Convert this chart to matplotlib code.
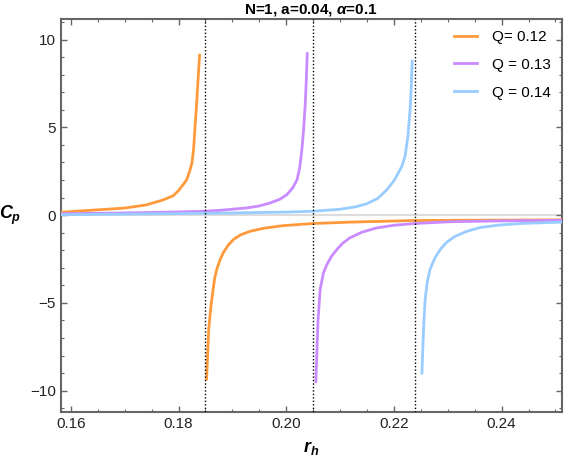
import matplotlib
matplotlib.use("Agg")
import matplotlib.pyplot as plt
from matplotlib.ticker import MultipleLocator, FormatStrFormatter

plt.rcParams['font.family'] = ['Liberation Sans', 'DejaVu Sans']
plt.rcParams['mathtext.fontset'] = 'custom'
plt.rcParams['mathtext.it'] = 'Liberation Sans:bold:italic'
plt.rcParams['mathtext.rm'] = 'Liberation Sans:bold'
plt.rcParams['mathtext.bf'] = 'Liberation Sans:bold'

labels = ["Q= 0.12", "Q = 0.13", "Q = 0.14"]
colors = ["#FF9A3C", "#C98BFF", "#99CCFF"]
critical_rh = [0.185, 0.205, 0.224]

# Q = 0.12
q12_left_x = [0.1581, 0.160, 0.165, 0.170, 0.174, 0.177, 0.179, 0.180, 0.181, 0.1815,
              0.182, 0.1825, 0.1828, 0.1831, 0.1833, 0.1835, 0.1837, 0.1839]
q12_left_y = [0.16, 0.20, 0.30, 0.40, 0.58, 0.85, 1.10, 1.40, 1.80, 2.01,
              2.45, 2.98, 3.80, 5.25, 6.10, 7.10, 8.10, 9.11]
q12_right_x = [0.1852, 0.1856, 0.1860, 0.1864, 0.1867, 0.1871, 0.1877, 0.1883, 0.1892,
               0.1902, 0.1915, 0.1933, 0.1960, 0.1995, 0.2050, 0.2120, 0.2237, 0.2512]
q12_right_y = [-9.34, -6.50, -5.20, -4.28, -3.60, -3.09, -2.55, -2.15, -1.72,
               -1.39, -1.13, -0.92, -0.74, -0.60, -0.48, -0.40, -0.31, -0.27]

# Q = 0.13
q13_left_x = [0.1581, 0.170, 0.180, 0.1849, 0.1877, 0.1927, 0.1950, 0.1970, 0.1988,
              0.2001, 0.2012, 0.2020, 0.2025, 0.2029, 0.2032, 0.2035, 0.2037, 0.2039]
q13_left_y = [0.08, 0.12, 0.18, 0.22, 0.27, 0.41, 0.52, 0.69, 0.90,
              1.16, 1.55, 2.01, 2.70, 3.72, 4.80, 6.17, 7.50, 9.20]
q13_right_x = [0.2055, 0.2059, 0.2063, 0.2069, 0.2075, 0.2084, 0.2094, 0.2105, 0.2118,
               0.2140, 0.2168, 0.2200, 0.2239, 0.2304, 0.2400, 0.2512]
q13_right_y = [-9.49, -6.00, -4.23, -3.30, -2.85, -2.35, -1.96, -1.60, -1.30,
               -0.98, -0.73, -0.58, -0.48, -0.38, -0.33, -0.30]

# Q = 0.14
q14_left_x = [0.1581, 0.175, 0.190, 0.200, 0.205, 0.210, 0.213, 0.2149, 0.2170,
              0.2187, 0.2200, 0.2208, 0.2215, 0.2221, 0.2226, 0.2230, 0.2232, 0.2234]
q14_left_y = [0.02, 0.07, 0.12, 0.17, 0.22, 0.33, 0.48, 0.64, 0.95,
              1.45, 1.95, 2.39, 2.80, 3.40, 4.50, 6.00, 7.20, 8.77]
q14_right_x = [0.2252, 0.2255, 0.2258, 0.2262, 0.2267, 0.2276, 0.2286, 0.2298, 0.2313,
               0.2335, 0.2360, 0.2395, 0.2434, 0.2512]
q14_right_y = [-9.00, -6.50, -4.80, -3.80, -3.10, -2.45, -1.96, -1.55, -1.22,
               -0.93, -0.71, -0.57, -0.48, -0.40]

series = [
    [(q12_left_x, q12_left_y), (q12_right_x, q12_right_y)],
    [(q13_left_x, q13_left_y), (q13_right_x, q13_right_y)],
    [(q14_left_x, q14_left_y), (q14_right_x, q14_right_y)],
]

fig = plt.figure(figsize=(5.67, 4.61), dpi=100)
ax = fig.add_axes([0.107, 0.107, 0.884, 0.851])

ax.axhline(0, color="#DDDDDD", lw=1.5, zorder=1)

for i, branches in enumerate(series):
    for j, (xs, ys) in enumerate(branches):
        ax.plot(xs, ys, color=colors[i], lw=2.0, zorder=3, solid_joinstyle='round',
                label=labels[i] if j == 0 else None)

for rc in critical_rh:
    ax.axvline(rc, color="black", lw=1.0, ls=(0, (1, 1.5)), zorder=4)

ax.set_xlim(0.1581, 0.2512)
ax.set_ylim(-11.2, 11.15)

ax.xaxis.set_major_locator(MultipleLocator(0.02))
ax.xaxis.set_minor_locator(MultipleLocator(0.005))
ax.yaxis.set_major_locator(MultipleLocator(5))
ax.yaxis.set_minor_locator(MultipleLocator(1))
ax.xaxis.set_major_formatter(FormatStrFormatter('%.2f'))

ax.tick_params(which='both', direction='in', top=True, right=True,
               color='#666666', labelsize=11, labelcolor='#222222')
ax.tick_params(which='major', length=4, width=1)
ax.tick_params(which='minor', length=2, width=0.8)
for s in ax.spines.values():
    s.set_color('#666666')
    s.set_linewidth(1.5)

ax.set_title(r"N=1, a=0.04, $\alpha$=0.1", fontsize=11, fontweight='bold', pad=4)
ax.set_xlabel(r"$r_h$", fontsize=13, labelpad=6)
ax.set_ylabel(r"$C_p$", fontsize=13, rotation=0, labelpad=14, va='center')

ax.legend(loc='upper right', frameon=False, fontsize=11, handlelength=1.5,
          handletextpad=1.0, labelspacing=0.9, borderaxespad=0.3)

fig.savefig("out.png", dpi=100)
